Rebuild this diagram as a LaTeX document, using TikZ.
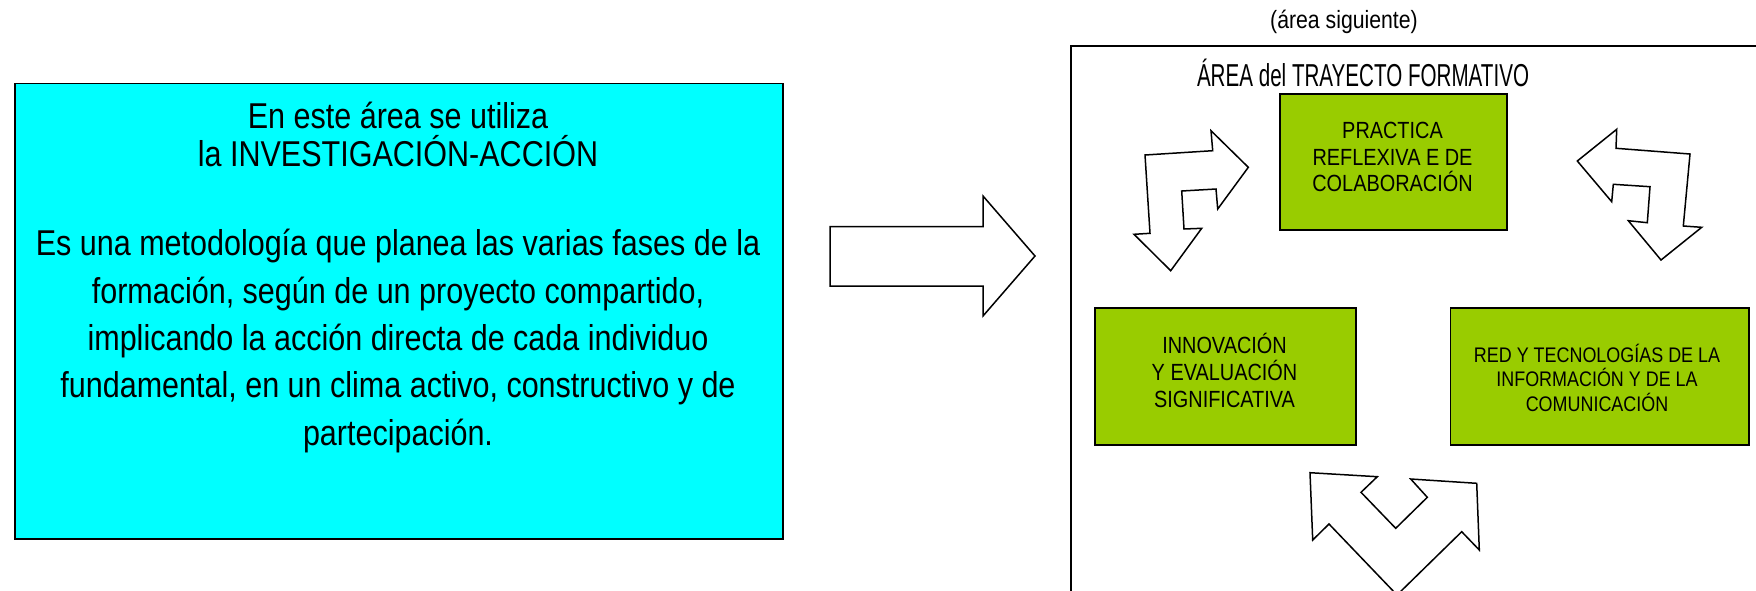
\documentclass[tikz,border=0pt]{standalone}
\usepackage{fontspec}
\setmainfont{Liberation Sans}[FakeStretch=0.85]
\newfontfamily\titlefont{Liberation Sans}[FakeStretch=0.65]
\usetikzlibrary{positioning}
\definecolor{aqua}{RGB}{0,255,255}
\definecolor{lime}{RGB}{153,204,0}

\begin{document}
\begin{tikzpicture}[x=1pt, y=-1pt,
    plainbox/.style={draw, line width=1.5pt, inner sep=0pt, anchor=north west},
    introbox/.style={plainbox, fill=aqua},
    areabox/.style={plainbox, fill=lime},
    txtline/.style={anchor=base, inner sep=0pt},
    bigtext/.style={txtline, font=\fontsize{35.9}{40}\selectfont},
    midtext/.style={txtline, font=\fontsize{23.4}{26}\selectfont},
    smalltext/.style={txtline, font=\fontsize{21.1}{24}\selectfont},
    bent/.style={draw, line width=1.5pt, fill=white, line join=miter}]

  \useasboundingbox (0,0) rectangle (1756,590);

  % left area
  \node[introbox, minimum width=767.7pt, minimum height=455.6pt] (intro) at (14.3,82.7) {};
  \foreach \txt/\ypos [count=\i] in {{En este área se utiliza}/128, {la INVESTIGACIÓN-ACCIÓN}/166,
      {Es una metodología que planea las varias fases de la}/255.7,
      {formación, según de un proyecto compartido,}/303,
      {implicando la acción directa de cada individuo}/350.3,
      {fundamental, en un clima activo, constructivo y de}/397.6,
      {partecipación.}/445}
    \node[bigtext] (intro_\i) at (398,\ypos) {\txt};

  % block arrow to the next area
  \draw[bent] (830,226.7) -- (983,226.7) -- (983,196) -- (1035,256) -- (983,316)
    -- (983,286) -- (830,286) -- cycle;

  % right area
  \node[plainbox, minimum width=700pt, minimum height=600pt] (area) at (1070,45) {};
  \node[txtline, font=\fontsize{25}{28}\selectfont] (next) at (1344,28) {(área siguiente)};
  \node[txtline, font=\titlefont\fontsize{31.7}{36}\selectfont] (title) at (1363,86) {ÁREA del TRAYECTO FORMATIVO};

  \node[areabox, minimum width=227pt, minimum height=136pt] (practica) at (1279,93.3) {};
  \node[areabox, minimum width=261pt, minimum height=137pt] (innovacion) at (1094,307.3) {};
  \node[areabox, minimum width=298.5pt, minimum height=137pt] (red) [right=93pt of innovacion] {};

  \foreach \txt/\ypos [count=\i] in {PRACTICA/138.3, {REFLEXIVA E DE}/165, COLABORACIÓN/191.7}
    \node[midtext] (practica_\i) at (1392.5,\ypos) {\txt};
  \foreach \txt/\ypos [count=\i] in {INNOVACIÓN/353.3, {Y EVALUACIÓN}/380, SIGNIFICATIVA/407.3}
    \node[midtext] (innovacion_\i) at (1224.5,\ypos) {\txt};
  \foreach \txt/\ypos [count=\i] in {{RED Y TECNOLOGÍAS DE LA}/362.7, {INFORMACIÓN Y DE LA}/386.7, COMUNICACIÓN/411.7}
    \node[smalltext] (red_\i) at (1597,\ypos) {\txt};

  % bent arrows
  \draw[bent] (1145,155) -- (1212.7,150.7) -- (1211,130.7) -- (1248.3,167.3) -- (1217.7,209)
    -- (1216,189) -- (1181.7,191) -- (1184,229) -- (1201.7,228.3) -- (1170.7,270.7)
    -- (1134,234.3) -- (1150,233.3) -- cycle;
  \draw[bent] (1616.7,129.3) -- (1577.3,161) -- (1611.7,201.7) -- (1613.3,184.3) -- (1650,186.7)
    -- (1647.3,222.7) -- (1628.3,220.7) -- (1661,260) -- (1701.7,227.3) -- (1683.3,226)
    -- (1690,154) -- (1616,148.3) -- cycle;
  \draw[bent] (1310,472.7) -- (1377.3,476.7) -- (1361,492.3) -- (1395.7,528.3) -- (1427.3,497.3)
    -- (1410.7,479) -- (1476.7,483.3) -- (1479.3,550) -- (1461.7,531.7) -- (1397,595)
    -- (1329,524) -- (1312.7,540) -- cycle;
\end{tikzpicture}
\end{document}
